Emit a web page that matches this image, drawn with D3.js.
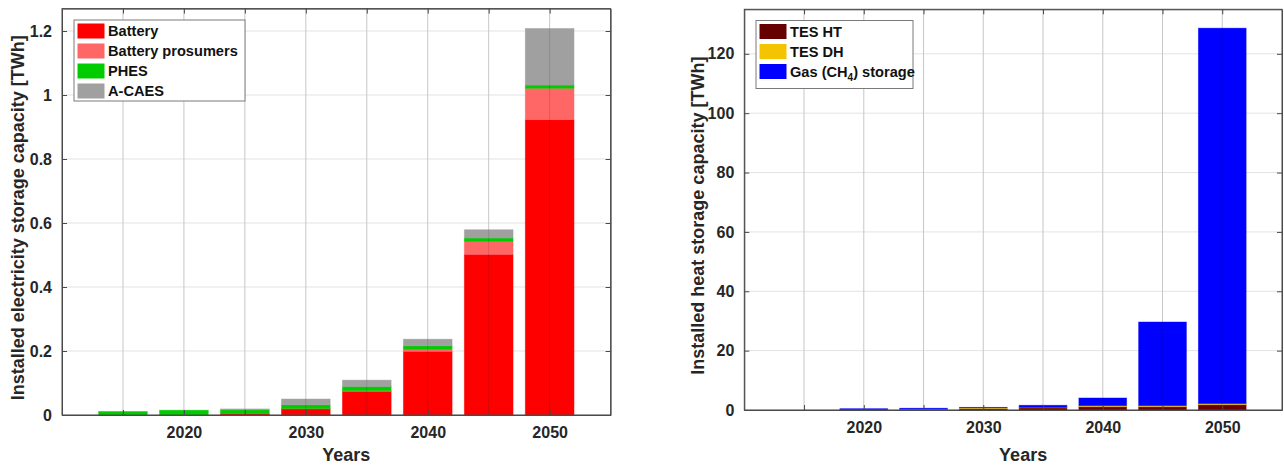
<!DOCTYPE html>
<html>
<head>
<meta charset="utf-8">
<script src="https://cdn.jsdelivr.net/npm/d3@7"></script>
<style>
  html, body { margin: 0; padding: 0; background: #fff; }
  svg { display: block; font-family: "Liberation Sans", Arial, sans-serif; }
</style>
</head>
<body>
<svg id="chart" width="1284" height="466"></svg>
<script>
// ---- Data ----
const years = [2015, 2020, 2025, 2030, 2035, 2040, 2045, 2050];
const xTickYears = [2015, 2020, 2025, 2030, 2035, 2040, 2045, 2050];
const xTickLabels = ["", "2020", "", "2030", "", "2040", "", "2050"];

// Electricity storage [TWh]
const battery          = [0, 0, 0.004, 0.019, 0.074, 0.199, 0.502, 0.923];
const batteryProsumers = [0, 0, 0, 0.001, 0.002, 0.006, 0.040, 0.098];
const phes             = [0.011, 0.015, 0.012, 0.012, 0.013, 0.011, 0.011, 0.010];
const acaes            = [0, 0, 0.003, 0.018, 0.020, 0.021, 0.026, 0.177];
const elecNames  = ["Battery", "Battery prosumers", "PHES", "A-CAES"];
const elecColors = ["#ff0000", "#ff6666", "#00cc00", "#a0a0a0"];
const elecTicks  = [0, 0.2, 0.4, 0.6, 0.8, 1, 1.2];

// Heat storage [TWh]
const tesHT = [0, 0.05, 0.2, 0.4, 0.7, 1.1, 1.1, 1.8];
const tesDH = [0, 0.05, 0.1, 0.3, 0.15, 0.35, 0.35, 0.35];
const gas   = [0, 0.35, 0.3, 0.2, 0.75, 2.6, 28.2, 126.5];
const heatNames  = ["TES HT", "TES DH", "Gas (CH4) storage"];
const heatColors = ["#660000", "#f5c400", "#0000ff"];
const heatTicks  = [0, 20, 40, 60, 80, 100, 120];

const svg = d3.select("#chart");

function drawPanel(opt) {
  const x = d3.scaleLinear().domain([2010, 2055]).range([opt.left, opt.right]);
  const y = d3.scaleLinear().domain(opt.yDomain).range([opt.bottom, opt.top]);
  const g = svg.append("g");
  const axisColor = "#4a4a4a";
  const textColor = "#262626";

  // grid
  g.append("g").selectAll("line.gx").data(xTickYears).join("line")
    .attr("x1", d => x(d)).attr("x2", d => x(d))
    .attr("y1", opt.top).attr("y2", opt.bottom)
    .attr("stroke", "#e3e3e3").attr("stroke-width", 1);
  g.append("g").selectAll("line.gy").data(opt.yTicks).join("line")
    .attr("x1", opt.left).attr("x2", opt.right)
    .attr("y1", d => y(d)).attr("y2", d => y(d))
    .attr("stroke", "#e3e3e3").attr("stroke-width", 1);

  // stacked bars
  const rows = years.map((yr, i) => {
    const r = { year: yr };
    opt.series.forEach((s, k) => r[k] = s[i]);
    return r;
  });
  const stack = d3.stack().keys(opt.series.map((s, k) => k))(rows);
  const bw = x(2014) - x(2010);
  stack.forEach((layer, k) => {
    g.append("g").selectAll("rect").data(layer).join("rect")
      .attr("x", d => x(d.data.year) - bw / 2)
      .attr("width", bw)
      .attr("y", d => y(d[1]))
      .attr("height", d => Math.max(0, y(d[0]) - y(d[1])))
      .attr("fill", opt.colors[k])
      .attr("stroke", opt.colors[k]).attr("stroke-opacity", 0.5)
      .attr("stroke-width", 0.8);
  });

  // grid over bars (faint)
  g.append("g").selectAll("line").data(xTickYears).join("line")
    .attr("x1", d => x(d)).attr("x2", d => x(d))
    .attr("y1", opt.top).attr("y2", opt.bottom)
    .attr("stroke", "#000").attr("stroke-opacity", 0.12).attr("stroke-width", 1);

  // box
  g.append("rect").attr("x", opt.left).attr("y", opt.top)
    .attr("width", opt.right - opt.left).attr("height", opt.bottom - opt.top)
    .attr("fill", "none").attr("stroke", axisColor).attr("stroke-width", 1);

  // axes with inward ticks
  const xAxisB = d3.axisBottom(x).tickValues(xTickYears).tickSizeInner(-5).tickSizeOuter(0)
    .tickFormat((d, i) => xTickLabels[i]).tickPadding(12);
  const gxb = g.append("g").attr("transform", `translate(0,${opt.bottom})`).call(xAxisB);
  const xAxisT = d3.axisTop(x).tickValues(xTickYears).tickSizeInner(-5).tickSizeOuter(0).tickFormat("");
  const gxt = g.append("g").attr("transform", `translate(0,${opt.top})`).call(xAxisT);
  const yAxisL = d3.axisLeft(y).tickValues(opt.yTicks).tickSizeInner(-5).tickSizeOuter(0)
    .tickFormat(d => d3.format("~g")(d)).tickPadding(10);
  const gyl = g.append("g").attr("transform", `translate(${opt.left},0)`).call(yAxisL);
  const yAxisR = d3.axisRight(y).tickValues(opt.yTicks).tickSizeInner(-5).tickSizeOuter(0).tickFormat("");
  const gyr = g.append("g").attr("transform", `translate(${opt.right},0)`).call(yAxisR);
  [gxb, gxt, gyl, gyr].forEach(a => {
    a.select(".domain").attr("stroke", axisColor);
    a.selectAll(".tick line").attr("stroke", axisColor);
    a.selectAll("text").attr("fill", textColor)
      .style("font-size", "16px").style("font-weight", "bold")
      .style("font-family", "'Liberation Sans', Arial, sans-serif");
  });

  // axis labels
  g.append("text").attr("x", (opt.left + opt.right) / 2 + 10).attr("y", 461)
    .attr("text-anchor", "middle").attr("fill", textColor)
    .style("font-size", "18px").style("font-weight", "bold").text("Years");
  g.append("text")
    .attr("transform", `translate(${opt.ylabelX},${(opt.top + opt.bottom) / 2 + 6}) rotate(-90)`)
    .attr("text-anchor", "middle").attr("fill", textColor)
    .style("font-size", "18px").style("font-weight", "bold").text(opt.ylabel);

  // legend
  const L = opt.legend;
  g.append("rect").attr("x", L.x).attr("y", L.y).attr("width", L.w).attr("height", L.h)
    .attr("fill", "#fff").attr("stroke", "#7a7a7a").attr("stroke-width", 1);
  opt.names.forEach((name, k) => {
    const cy = L.y + 11 + k * 20;
    g.append("rect").attr("x", L.x + 3.5).attr("y", cy - 7.5).attr("width", 27).attr("height", 15)
      .attr("fill", opt.colors[k]);
    const t = g.append("text").attr("x", L.x + 34).attr("y", cy + 5)
      .attr("fill", "#111").style("font-size", "14.6px").style("font-weight", "bold");
    if (name.includes("CH4")) {
      t.append("tspan").text("Gas (CH");
      t.append("tspan").attr("dy", 4).style("font-size", "10px").text("4");
      t.append("tspan").attr("dy", -4).text(") storage");
    } else {
      t.text(name);
    }
  });
}

drawPanel({
  left: 62, right: 610.6, top: 8.6, bottom: 415,
  yDomain: [0, 1.27], yTicks: elecTicks,
  series: [battery, batteryProsumers, phes, acaes],
  colors: elecColors, names: elecNames,
  ylabel: "Installed electricity storage capacity [TWh]", ylabelX: 24,
  legend: { x: 74, y: 20, w: 171, h: 81 }
});

drawPanel({
  left: 744.3, right: 1282, top: 9.3, bottom: 410,
  yDomain: [0, 135], yTicks: heatTicks,
  series: [tesHT, tesDH, gas],
  colors: heatColors, names: heatNames,
  ylabel: "Installed heat storage capacity [TWh]", ylabelX: 704,
  legend: { x: 756, y: 20.5, w: 157, h: 68 }
});
</script>
</body>
</html>
